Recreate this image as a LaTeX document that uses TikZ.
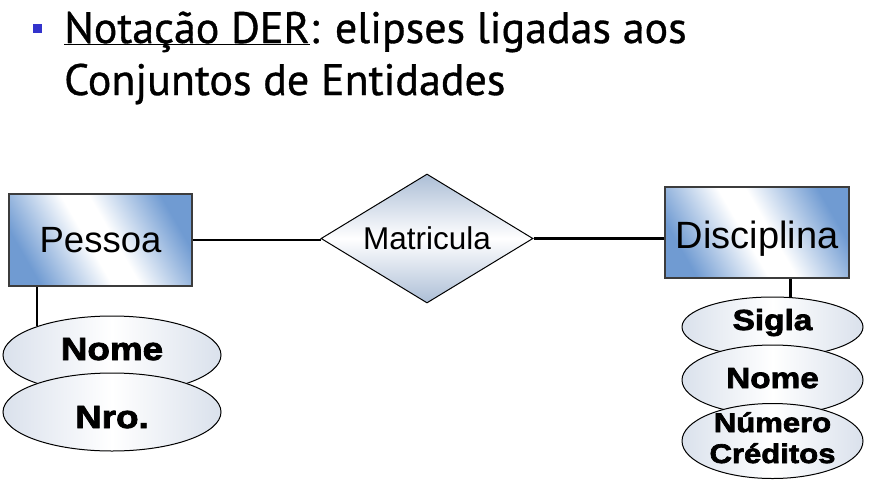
\documentclass[tikz,border=0pt]{standalone}
\usepackage{fontspec}
\setmainfont{Liberation Sans}
\newfontfamily\titlefont{PT Sans}[RawFeature={embolden=0.8}]
\newfontfamily\attrfont{Liberation Sans Bold}[FakeStretch=1.15,RawFeature={embolden=2.5}]
\usetikzlibrary{shapes.geometric}
\definecolor{entblue}{RGB}{112,155,210}
\definecolor{diablue}{RGB}{172,190,214}
\definecolor{ellgray}{RGB}{218,225,236}
\definecolor{bulletblue}{RGB}{51,51,204}
\definecolor{edgegray}{RGB}{60,60,60}
\pgfdeclarehorizontalshading{entshade}{100bp}{color(0bp)=(entblue); color(25bp)=(entblue); color(46bp)=(white); color(54bp)=(white); color(75bp)=(entblue); color(100bp)=(entblue)}

\begin{document}
\begin{tikzpicture}[x=1pt,y=-1pt,
    entity/.style={draw=edgegray,line width=1.5pt,shade,shading=entshade,shading angle=30,inner sep=0pt},
    rel/.style={diamond,draw,line width=1pt,aspect=1.64,inner sep=1pt,minimum width=212pt,minimum height=129pt,top color=diablue,bottom color=diablue,middle color=white},
    attr/.style={ellipse,draw,line width=1pt,inner sep=0pt,left color=ellgray,right color=ellgray,middle color=white},
    attrtxt/.style={anchor=base,inner sep=0pt},
    link/.style={line width=2.5pt}]
    \useasboundingbox (0,0) rectangle (869,488);

    % title
    \node[fill=bulletblue,minimum size=9pt,inner sep=0pt] (bullet) at (37.5,28.5) {};
    \node[anchor=base west,inner sep=0pt,font=\titlefont\fontsize{44}{52}\selectfont] (title1) at (64,43) {\underline{\smash{Notação DER}}: elipses ligadas aos};
    \node[anchor=base west,inner sep=0pt,font=\titlefont\fontsize{44}{52}\selectfont] (title2) at (64,95) {Conjuntos de Entidades};

    % entities and relationship
    \node[entity,minimum width=183pt,minimum height=92pt,font=\fontsize{36.5}{40}\selectfont] (pessoa) at (100.5,240) {Pessoa};
    \node[rel,font=\fontsize{31.5}{36}\selectfont] (matricula) at (427,238.5) {Matricula};
    \node[entity,minimum width=184pt,minimum height=91pt,text height=32pt,text depth=0pt,font=\fontsize{38}{42}\selectfont] (disciplina) at (757,232.5) {Disciplina};
    \draw[link] (pessoa.east) -- (pessoa.east -| matricula.west);
    \draw[link] (matricula.east) -- (matricula.east -| disciplina.west);

    % attributes of Pessoa
    \node[attr,minimum width=218pt,minimum height=78pt] (nomeP) at (112,355) {};
    \node[attrtxt,font=\attrfont\fontsize{32}{36}\selectfont] (nomePtxt) at ([yshift=-5pt]nomeP.center) {Nome};
    \node[attr,minimum width=218pt,minimum height=78pt] (nroP) at (112,412) {};
    \node[attrtxt,font=\attrfont\fontsize{32}{36}\selectfont] (nroPtxt) at ([yshift=-16pt]nroP.center) {Nro.};
    \draw[link] (nomeP.159) -- (nomeP.159 |- pessoa.south);

    % attributes of Disciplina
    \node[attr,minimum width=181pt,minimum height=60pt] (siglaD) at (772.5,327) {};
    \node[attrtxt,font=\attrfont\fontsize{29}{33}\selectfont] (siglaDtxt) at ([yshift=-3pt]siglaD.center) {Sigla};
    \node[attr,minimum width=181pt,minimum height=70pt] (nomeD) at (772.5,380) {};
    \node[attrtxt,font=\attrfont\fontsize{29}{33}\selectfont] (nomeDtxt) at ([yshift=-8pt]nomeD.center) {Nome};
    \node[attr,minimum width=181pt,minimum height=75pt] (numD) at (772.5,441) {};
    \node[attrtxt,font=\attrfont\fontsize{27}{31}\selectfont] (numDtxt) at ([yshift=9pt]numD.center) {Número};
    \node[attrtxt,font=\attrfont\fontsize{27}{31}\selectfont] (credDtxt) at ([yshift=-22pt]numD.center) {Créditos};
    \draw[link] (siglaD.59) -- (siglaD.59 |- disciplina.south);
\end{tikzpicture}
\end{document}
